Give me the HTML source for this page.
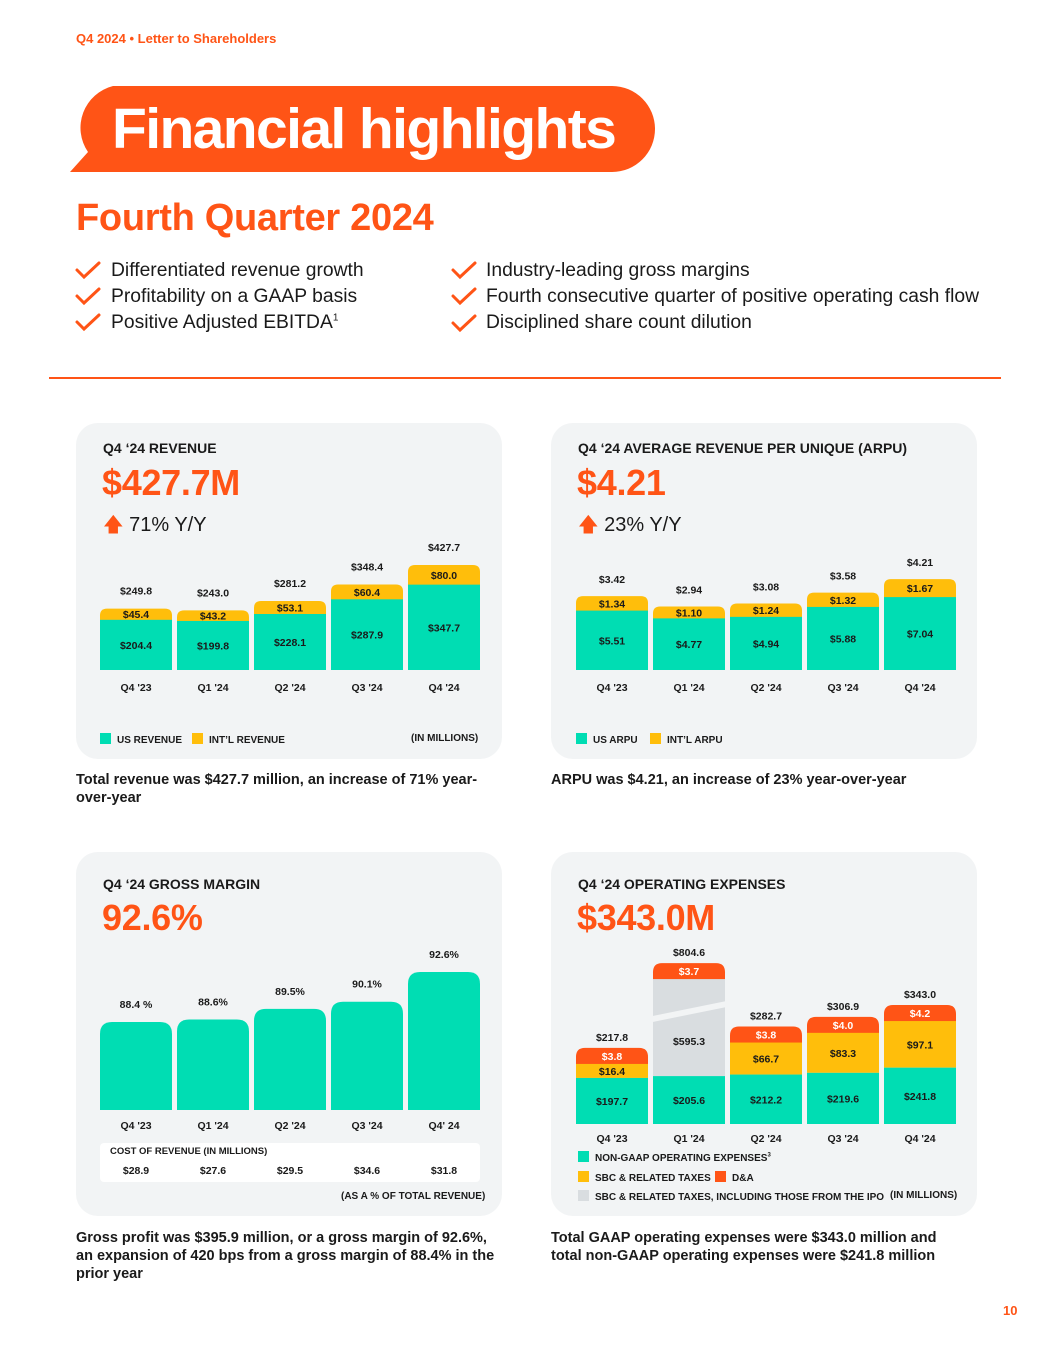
<!DOCTYPE html>
<html><head><meta charset="utf-8">
<style>
*{margin:0;padding:0;box-sizing:border-box}
body{width:1055px;height:1365px;background:#fff;position:relative;font-family:"Liberation Sans",sans-serif;color:#1a1a1a;overflow:hidden}
.a{position:absolute;white-space:nowrap}
.or{color:#FF5416}
.panel{position:absolute;background:#F2F4F5;border-radius:22px}
.pt{font-size:14px;font-weight:bold}
.big{font-size:36px;font-weight:bold;color:#FF5416;letter-spacing:-0.3px}
.yy{font-size:20px}
.chk{font-size:19.3px;letter-spacing:0px}
.cap{font-size:14.5px;font-weight:bold;line-height:18px}
.lg{font-size:10px;font-weight:bold}
.sw{display:inline-block;width:11px;height:11px;vertical-align:-1px;margin-right:6px}
</style></head><body>
<div class="a or" style="left:76px;top:31px;font-size:13px;font-weight:bold">Q4 2024 • Letter to Shareholders</div>
<svg class="a" style="left:0;top:0" width="1055" height="200">
<path d="M113 86 H612 A43 43 0 0 1 612 172 H70 L88 152 A43 43 0 0 1 113 86 Z" fill="#FF5416"/>
</svg>
<div class="a" style="left:112px;top:96px;font-size:57px;font-weight:bold;color:#fff;letter-spacing:-1.6px">Financial highlights</div>
<div class="a or" style="left:76px;top:197px;font-size:38px;font-weight:bold;letter-spacing:-0.3px">Fourth Quarter 2024</div>
<svg class="a" style="left:0;top:0" width="1055" height="340">
<g fill="none" stroke="#FF5416" stroke-width="3" stroke-linecap="round">
<path d="M77 270 l7 7 l15 -14"/><path d="M77 296 l7 7 l15 -14"/><path d="M77 322 l7 7 l15 -14"/>
<path d="M453 270 l7 7 l15 -14"/><path d="M453 296 l7 7 l15 -14"/><path d="M453 323 l7 7 l15 -14"/>
</g></svg>
<div class="a chk" style="left:111px;top:260px">Differentiated revenue growth</div>
<div class="a chk" style="left:111px;top:286px">Profitability on a GAAP basis</div>
<div class="a chk" style="left:111px;top:312px">Positive Adjusted EBITDA<sup style="font-size:10px">1</sup></div>
<div class="a chk" style="left:486px;top:260px">Industry-leading gross margins</div>
<div class="a chk" style="left:486px;top:286px">Fourth consecutive quarter of positive operating cash flow</div>
<div class="a chk" style="left:486px;top:312px">Disciplined share count dilution</div>
<div class="a" style="left:49px;top:377px;width:952px;height:2px;background:#FF5416"></div>

<div class="panel" style="left:76px;top:423px;width:426px;height:336px"></div>
<div class="panel" style="left:551px;top:423px;width:426px;height:336px"></div>
<div class="panel" style="left:76px;top:852px;width:426px;height:364px"></div>
<div class="panel" style="left:551px;top:852px;width:426px;height:364px"></div>

<div class="a pt" style="left:103px;top:440px">Q4 ‘24 REVENUE</div>
<div class="a big" style="left:102px;top:462px">$427.7M</div>
<div class="a yy" style="left:103px;top:510px"><span class="or">🡅</span> 71% Y/Y</div>
<div class="a pt" style="left:578px;top:440px">Q4 ‘24 AVERAGE REVENUE PER UNIQUE (ARPU)</div>
<div class="a big" style="left:577px;top:462px">$4.21</div>
<div class="a yy" style="left:578px;top:510px"><span class="or">🡅</span> 23% Y/Y</div>
<div class="a pt" style="left:103px;top:876px">Q4 ‘24 GROSS MARGIN</div>
<div class="a big" style="left:102px;top:897px">92.6%</div>
<div class="a pt" style="left:578px;top:876px">Q4 ‘24 OPERATING EXPENSES</div>
<div class="a big" style="left:577px;top:897px">$343.0M</div>

<div class="a lg" style="left:100px;top:733px"><span class="sw" style="background:#00DDB3"></span>US REVENUE</div>
<div class="a lg" style="left:192px;top:733px"><span class="sw" style="background:#FFBE0B"></span>INT’L REVENUE</div>
<div class="a lg" style="left:411px;top:733px">(IN MILLIONS)</div>
<div class="a lg" style="left:576px;top:733px"><span class="sw" style="background:#00DDB3"></span>US ARPU</div>
<div class="a lg" style="left:650px;top:733px"><span class="sw" style="background:#FFBE0B"></span>INT’L ARPU</div>
<div class="a" style="left:100px;top:1143px;width:380px;height:39px;background:#fff;border-radius:4px"></div>
<div class="a lg" style="left:110px;top:1146px;font-size:9.5px">COST OF REVENUE (IN MILLIONS)</div>
<div class="a lg" style="left:341px;top:1191px">(AS A % OF TOTAL REVENUE)</div>
<div class="a lg" style="left:578px;top:1151px"><span class="sw" style="background:#00DDB3"></span>NON-GAAP OPERATING EXPENSES<sup style="font-size:6px">3</sup></div>
<div class="a lg" style="left:578px;top:1171px"><span class="sw" style="background:#FFBE0B"></span>SBC &amp; RELATED TAXES</div>
<div class="a lg" style="left:715px;top:1171px"><span class="sw" style="background:#FF5416"></span>D&amp;A</div>
<div class="a lg" style="left:578px;top:1190px"><span class="sw" style="background:#D9DDE0"></span>SBC &amp; RELATED TAXES, INCLUDING THOSE FROM THE IPO</div>
<div class="a lg" style="left:890px;top:1190px">(IN MILLIONS)</div>

<div class="a cap" style="left:76px;top:771px;width:430px;white-space:normal">Total revenue was $427.7 million, an increase of 71% year-over-year</div>
<div class="a cap" style="left:551px;top:771px">ARPU was $4.21, an increase of 23% year-over-year</div>
<div class="a cap" style="left:76px;top:1229px;width:428px;white-space:normal">Gross profit was $395.9 million, or a gross margin of 92.6%, an expansion of 420 bps from a gross margin of 88.4% in the prior year</div>
<div class="a cap" style="left:551px;top:1229px;width:420px;white-space:normal">Total GAAP operating expenses were $343.0 million and total non-GAAP operating expenses were $241.8 million</div>
<div class="a or" style="left:1003px;top:1303px;font-size:13px;font-weight:bold">10</div>

<svg id="charts" class="a" style="left:0;top:0" width="1055" height="1365"></svg>
<script>
const cats=["Q4 '23","Q1 '24","Q2 '24","Q3 '24","Q4 '24"];
const gmCats=["Q4 '23","Q1 '24","Q2 '24","Q3 '24","Q4' 24"];
const revUS=[204.4,199.8,228.1,287.9,347.7];
const revIntl=[45.4,43.2,53.1,60.4,80.0];
const revTotal=[249.8,243.0,281.2,348.4,427.7];
const arpuUS=[5.51,4.77,4.94,5.88,7.04];
const arpuIntl=[1.34,1.10,1.24,1.32,1.67];
const arpuTotal=[3.42,2.94,3.08,3.58,4.21];
const gmVals=[88.4,88.6,89.5,90.1,92.6];
const gmLabels=["88.4 %","88.6%","89.5%","90.1%","92.6%"];
const costVals=[28.9,27.6,29.5,34.6,31.8];
const opNonGaap=[197.7,205.6,212.2,219.6,241.8];
const opSbc=[16.4,595.3,66.7,83.3,97.1];
const opDA=[3.8,3.7,3.8,4.0,4.2];
const opTotal=[217.8,804.6,282.7,306.9,343.0];

const svg=document.getElementById('charts');
const NS='http://www.w3.org/2000/svg';
const TEAL='#00DDB3',YEL='#FFBE0B',ORG='#FF5416',GRY='#D9DDE0';
function el(tag,attrs){const e=document.createElementNS(NS,tag);for(const k in attrs)e.setAttribute(k,attrs[k]);svg.appendChild(e);return e;}
function rtop(x,y,w,h,r){r=Math.min(r,h);return `M${x} ${y+h}V${y+r}Q${x} ${y} ${x+r} ${y}H${x+w-r}Q${x+w} ${y} ${x+w} ${y+r}V${y+h}Z`;}
function txt(x,y,s,fill,size){const t=el('text',{x:x,y:y,'text-anchor':'middle','font-family':'Liberation Sans, sans-serif','font-weight':'bold','font-size':size||10.5,fill:fill||'#1a1a1a'});t.textContent=s;

return t;}
function bandX(x0,i){return x0+i*77;}
const BW=72;

// Revenue
const revBase=670,revK=0.2455;
function yRev(v){return revBase-v*revK;}
cats.forEach((c,i)=>{const x=bandX(100,i);
 const yt=yRev(revTotal[i]),yu=yRev(revUS[i]);
 const p1=el('path',{d:rtop(x,yt,BW,revBase-yt,7),fill:YEL});
 
 
 const p2=el('rect',{x:x,y:yu,width:BW,height:revBase-yu,fill:TEAL});
 
 
 txt(x+BW/2,(yt+yu)/2+4,'$'+revIntl[i].toFixed(1));
 txt(x+BW/2,(yu+revBase)/2+4,'$'+revUS[i].toFixed(1));
 txt(x+BW/2,yt-14,'$'+revTotal[i].toFixed(1));
 txt(x+BW/2,691,c);
});

// ARPU
const aBase=670,aK=21.6,aIK=10.8;
function yA(v){return aBase-v*aK;}
cats.forEach((c,i)=>{const x=bandX(576,i);
 const yt=yA(arpuTotal[i]),yu=yt+arpuIntl[i]*aIK;
 const p1=el('path',{d:rtop(x,yt,BW,aBase-yt,7),fill:YEL});
 
 
 const p2=el('rect',{x:x,y:yu,width:BW,height:aBase-yu,fill:TEAL});
 
 
 txt(x+BW/2,(yt+yu)/2+4,'$'+arpuIntl[i].toFixed(2));
 txt(x+BW/2,(yu+aBase)/2+4,'$'+arpuUS[i].toFixed(2));
 txt(x+BW/2,yt-13,'$'+arpuTotal[i].toFixed(2));
 txt(x+BW/2,691,c);
});

// Gross margin
const gBase=1110,gMin=81,gK=11.9;
function yG(v){return gBase-(v-gMin)*gK;}
gmCats.forEach((c,i)=>{const x=bandX(100,i);const yt=yG(gmVals[i]);
 const p=el('path',{d:rtop(x,yt,BW,gBase-yt,12),fill:TEAL});
 
 
 txt(x+BW/2,yt-14,gmLabels[i]);
 txt(x+BW/2,1129,c);
 txt(x+BW/2,1174,'$'+costVals[i].toFixed(1));
});

// Operating expenses (stacked; Q1 '24 bar broken)
const oBase=1124,oTK=0.233,oSK=0.48,oMin=14,daH=16,brokenH=97;
cats.forEach((c,i)=>{const x=bandX(576,i);
 const hT=opNonGaap[i]*oTK;
 const broken=opSbc[i]>400;
 const hS=broken?brokenH:Math.max(oMin,opSbc[i]*oSK);
 const yT=oBase-hT,yS=yT-hS,yD=yS-daH;
 const d=el('path',{d:rtop(x,yD,BW,daH+3,9),fill:ORG});
 
 
 const s=el('rect',{x:x,y:yS,width:BW,height:hS,fill:broken?GRY:YEL});
 
 
 const t=el('rect',{x:x,y:yT,width:BW,height:hT,fill:TEAL});
 
 
 if(broken){const b=el('path',{d:`M${x-1} ${yS+37}L${x+BW+1} ${yS+22}V${yS+28}L${x-1} ${yS+43}Z`,fill:'#F2F4F5'});
  
  }
 txt(x+BW/2,yD+12,'$'+opDA[i].toFixed(1),'#fff');
 txt(x+BW/2,broken?yS+66:yS+hS/2+4,'$'+opSbc[i].toFixed(1));
 txt(x+BW/2,yT+hT/2+4,'$'+opNonGaap[i].toFixed(1));
 txt(x+BW/2,yD-7,'$'+opTotal[i].toFixed(1));
 txt(x+BW/2,1142,c);
});
</script>
</body></html>
